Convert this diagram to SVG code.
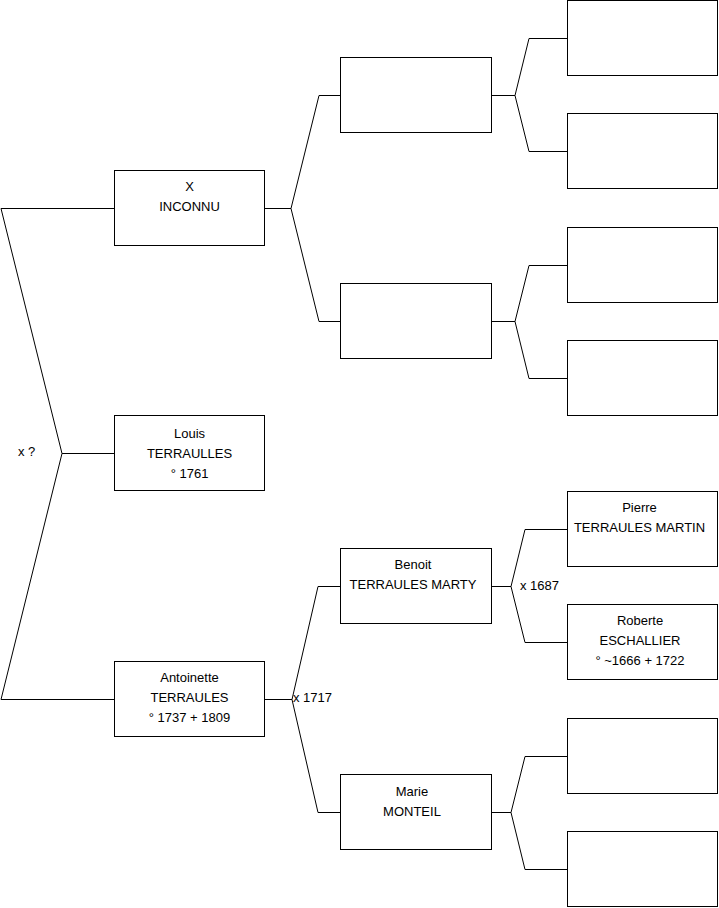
<svg xmlns="http://www.w3.org/2000/svg" width="719" height="908" viewBox="0 0 719 908">
<style>
.box{fill:#ffffff;stroke:#000000;stroke-width:1}
.edge{fill:none;stroke:#000000;stroke-width:1}
text{font-family:"Liberation Sans",Arial,sans-serif;font-size:13px;fill:#000000}
.c{text-anchor:middle}
</style>
<rect width="719" height="908" fill="#ffffff"/>
<g id="connectors">
<path class="edge" d="M114,208.5 H1 L62,453.5 H114"/>
<path class="edge" d="M114,699.5 H1 L62,453.5"/>
<path class="edge" d="M265,208.5 H291 L319,95.5 H341"/>
<path class="edge" d="M291,208.5 L319,321.5 H341"/>
<path class="edge" d="M265,699.5 H292 L318,586.5 H341"/>
<path class="edge" d="M292,699.5 L318,812.5 H341"/>
<path class="edge" d="M492,95.5 H515 L529,38.5 H567"/>
<path class="edge" d="M515,95.5 L529,151.5 H567"/>
<path class="edge" d="M492,321.5 H515 L529,265.5 H567"/>
<path class="edge" d="M515,321.5 L529,378.5 H567"/>
<path class="edge" d="M492,586.5 H511 L525,529.5 H567"/>
<path class="edge" d="M511,586.5 L525,642.5 H567"/>
<path class="edge" d="M492,812.5 H511 L525,756.5 H567"/>
<path class="edge" d="M511,812.5 L525,869.5 H567"/>
<text x="18" y="456">x ?</text>
<text x="293" y="702">x 1717</text>
<text x="520" y="590">x 1687</text>
</g>
<g id="n_x_inconnu">
<rect class="box" x="114.5" y="170.5" width="150" height="75"/>
<text class="c" x="189.5" y="191">X</text>
<text class="c" x="189.5" y="211">INCONNU</text>
</g>
<g id="n_louis">
<rect class="box" x="114.5" y="415.5" width="150" height="75"/>
<text class="c" x="189.5" y="438">Louis</text>
<text class="c" x="189.5" y="458">TERRAULLES</text>
<text class="c" x="189.5" y="478">° 1761</text>
</g>
<g id="n_antoinette">
<rect class="box" x="114.5" y="661.5" width="150" height="75"/>
<text class="c" x="189.5" y="682">Antoinette</text>
<text class="c" x="189.5" y="702">TERRAULES</text>
<text class="c" x="189.5" y="722">° 1737 + 1809</text>
</g>
<g id="n_p1">
<rect class="box" x="340.5" y="57.5" width="151" height="75"/>
</g>
<g id="n_p2">
<rect class="box" x="340.5" y="283.5" width="151" height="75"/>
</g>
<g id="n_benoit">
<rect class="box" x="340.5" y="548.5" width="151" height="75"/>
<text class="c" x="413" y="569">Benoit</text>
<text class="c" x="413" y="589">TERRAULES MARTY</text>
</g>
<g id="n_marie">
<rect class="box" x="340.5" y="774.5" width="151" height="75"/>
<text class="c" x="412" y="796">Marie</text>
<text class="c" x="412" y="816">MONTEIL</text>
</g>
<g id="n_g1">
<rect class="box" x="567.5" y="0.5" width="150" height="75"/>
</g>
<g id="n_g2">
<rect class="box" x="567.5" y="113.5" width="150" height="75"/>
</g>
<g id="n_g3">
<rect class="box" x="567.5" y="227.5" width="150" height="75"/>
</g>
<g id="n_g4">
<rect class="box" x="567.5" y="340.5" width="150" height="75"/>
</g>
<g id="n_pierre">
<rect class="box" x="567.5" y="491.5" width="150" height="75"/>
<text class="c" x="639.5" y="512">Pierre</text>
<text class="c" x="639.5" y="532">TERRAULES MARTIN</text>
</g>
<g id="n_roberte">
<rect class="box" x="567.5" y="604.5" width="150" height="75"/>
<text class="c" x="640" y="625">Roberte</text>
<text class="c" x="640" y="645">ESCHALLIER</text>
<text class="c" x="640" y="665">° ~1666 + 1722</text>
</g>
<g id="n_g7">
<rect class="box" x="567.5" y="718.5" width="150" height="75"/>
</g>
<g id="n_g8">
<rect class="box" x="567.5" y="831.5" width="150" height="75"/>
</g>
</svg>
